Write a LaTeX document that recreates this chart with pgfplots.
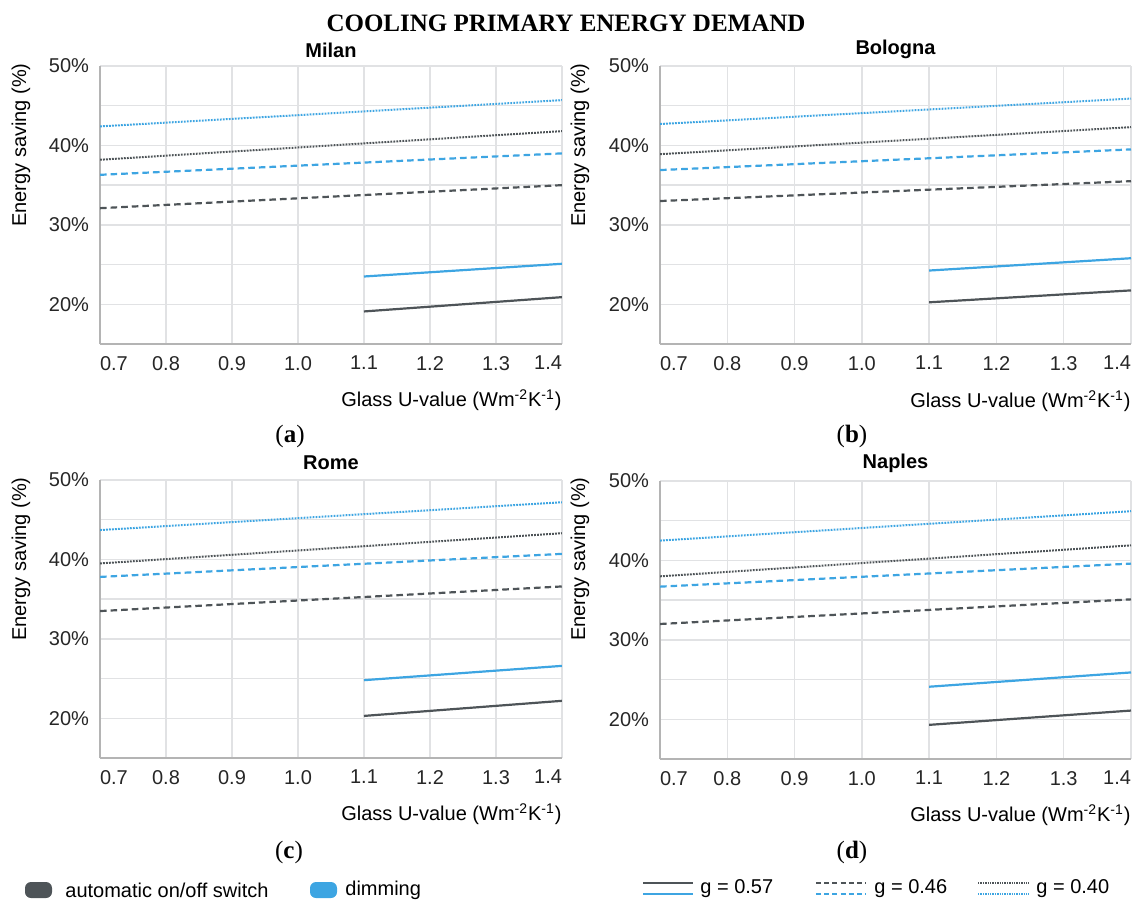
\documentclass[border=0pt]{standalone}
\usepackage{fontspec}
\setmainfont{Liberation Sans}
\newfontfamily\capfont{Liberation Serif}
\usepackage{pgfplots}
\pgfplotsset{compat=1.18}

\definecolor{autogray}{HTML}{4E5458}
\definecolor{dimblue}{HTML}{3DA5E2}
\definecolor{gridgray}{HTML}{E1E2E4}
\definecolor{axisgray}{HTML}{B4B4B4}

\pgfplotsset{
  panel/.style={
    scale only axis,
    width=231pt, height=139pt,
    xmin=0.7, xmax=1.4, ymin=15, ymax=50,
    xtick={0.7,0.8,0.9,1.0,1.1,1.2,1.3,1.4},
    xticklabels={\rlap{0.7},0.8,0.9,1.0,1.1,1.2,1.3,\llap{1.4}},
    ytick={20,25,30,35,40,45,50},
    yticklabels={20\%,,30\%,,40\%,,\raisebox{-3pt}{50\%}},
    grid=major,
    major grid style={gridgray, line width=0.7pt},
    major tick length=0pt,
    axis x line*=bottom, axis y line*=left,
    axis line style={axisgray, line width=0.8pt},
    tick label style={font=\fontsize{10}{12}\selectfont, text=black!85},
    xticklabel style={yshift=-2.5pt},
    yticklabel style={xshift=-2pt},
  },
  g57/.style={line width=1.1pt},
  g46/.style={line width=1.1pt, dash pattern=on 3.3pt off 2pt},
  g40/.style={line width=1pt, dash pattern=on 0.9pt off 0.6pt},
}

\begin{document}
\begin{tikzpicture}
\useasboundingbox (0,0) rectangle (566pt,-451pt);

% (a) Milan
\begin{axis}[panel, at={(50pt,-172pt)}, anchor=south west]
\addplot[autogray, g57] coordinates {(1.1,19.1) (1.4,20.9)};
\addplot[dimblue, g57] coordinates {(1.1,23.5) (1.4,25.1)};
\addplot[autogray, g46] coordinates {(0.7,32.1) (1.4,35.0)};
\addplot[dimblue, g46] coordinates {(0.7,36.3) (1.4,39.0)};
\addplot[autogray, g40] coordinates {(0.7,38.2) (1.4,41.8)};
\addplot[dimblue, g40] coordinates {(0.7,42.4) (1.4,45.7)};
\end{axis}

% (b) Bologna
\begin{axis}[panel, width=235.5pt, at={(330pt,-172pt)}, anchor=south west]
\addplot[autogray, g57] coordinates {(1.1,20.25) (1.4,21.75)};
\addplot[dimblue, g57] coordinates {(1.1,24.25) (1.4,25.8)};
\addplot[autogray, g46] coordinates {(0.7,33.0) (1.4,35.5)};
\addplot[dimblue, g46] coordinates {(0.7,36.9) (1.4,39.5)};
\addplot[autogray, g40] coordinates {(0.7,38.9) (1.4,42.3)};
\addplot[dimblue, g40] coordinates {(0.7,42.7) (1.4,45.9)};
\end{axis}

% (c) Rome
\begin{axis}[panel, at={(50pt,-379pt)}, anchor=south west]
\addplot[autogray, g57] coordinates {(1.1,20.3) (1.4,22.2)};
\addplot[dimblue, g57] coordinates {(1.1,24.8) (1.4,26.6)};
\addplot[autogray, g46] coordinates {(0.7,33.5) (1.4,36.6)};
\addplot[dimblue, g46] coordinates {(0.7,37.8) (1.4,40.7)};
\addplot[autogray, g40] coordinates {(0.7,39.5) (1.4,43.3)};
\addplot[dimblue, g40] coordinates {(0.7,43.7) (1.4,47.2)};
\end{axis}

% (d) Naples
\begin{axis}[panel, width=235.5pt, at={(330pt,-379.5pt)}, anchor=south west]
\addplot[autogray, g57] coordinates {(1.1,19.3) (1.4,21.1)};
\addplot[dimblue, g57] coordinates {(1.1,24.1) (1.4,25.9)};
\addplot[autogray, g46] coordinates {(0.7,32.0) (1.4,35.1)};
\addplot[dimblue, g46] coordinates {(0.7,36.7) (1.4,39.6)};
\addplot[autogray, g40] coordinates {(0.7,38.0) (1.4,41.9)};
\addplot[dimblue, g40] coordinates {(0.7,42.5) (1.4,46.2)};
\end{axis}

% titles and labels
\node[font=\capfont\bfseries\fontsize{12.5}{14}\selectfont] at (283pt,-11.5pt) {COOLING PRIMARY ENERGY DEMAND};
\foreach \px/\py/\city in {165.5/25/Milan, 447.75/24.5/Bologna, 165.5/231.5/Rome, 447.75/231.5/Naples}
  \node[font=\fontsize{10}{12}\selectfont\bfseries] at (\px pt,-\py pt) {\city};
\foreach \px/\py in {10.5/72.5, 290/72.5, 10.5/279.5, 290/279.5}
  \node[rotate=90, font=\fontsize{10}{12}\selectfont] at (\px pt,-\py pt) {Energy saving (\%)};
\foreach \px/\py in {281/200, 565.5/200.5, 281/407, 565.5/407.5}
  \node[anchor=east, inner sep=0pt, font=\fontsize{10}{12}\selectfont] at (\px pt,-\py pt) {Glass U-value (Wm\textsuperscript{-2}K\textsuperscript{-1})};
\foreach \px/\py/\lab in {145/218/a, 426/218/b, 144.5/426/c, 426/426/d}
  \node[font=\capfont\fontsize{12.5}{14}\selectfont] at (\px pt,-\py pt) {(\textbf{\lab})};

% legend
\fill[autogray, rounded corners=3pt] (12.5pt,-441pt) rectangle (26pt,-449pt);
\node[anchor=west, inner sep=0pt, font=\fontsize{10}{12}\selectfont] at (32.5pt,-445pt) {automatic on/off switch};
\fill[dimblue, rounded corners=3pt] (155pt,-441pt) rectangle (168.5pt,-449pt);
\node[anchor=west, inner sep=0pt, font=\fontsize{10}{12}\selectfont] at (172.5pt,-445pt) {dimming};

\draw[autogray, line width=1.2pt] (321.5pt,-441.5pt) -- (346.5pt,-441.5pt);
\draw[dimblue, line width=1.2pt] (321.5pt,-447pt) -- (346.5pt,-447pt);
\node[anchor=west, inner sep=0pt, font=\fontsize{10}{12}\selectfont] at (350pt,-444.5pt) {g = 0.57};
\draw[autogray, line width=1pt, dash pattern=on 2.5pt off 1.6pt] (408pt,-441.5pt) -- (433pt,-441.5pt);
\draw[dimblue, line width=1pt, dash pattern=on 2.5pt off 1.6pt] (408pt,-447pt) -- (433pt,-447pt);
\node[anchor=west, inner sep=0pt, font=\fontsize{10}{12}\selectfont] at (437pt,-444.5pt) {g = 0.46};
\draw[autogray, line width=0.9pt, dash pattern=on 0.7pt off 0.5pt] (489pt,-441.5pt) -- (514.5pt,-441.5pt);
\draw[dimblue, line width=0.9pt, dash pattern=on 0.7pt off 0.5pt] (489pt,-447pt) -- (514.5pt,-447pt);
\node[anchor=west, inner sep=0pt, font=\fontsize{10}{12}\selectfont] at (518pt,-444.5pt) {g = 0.40};
\end{tikzpicture}
\end{document}
